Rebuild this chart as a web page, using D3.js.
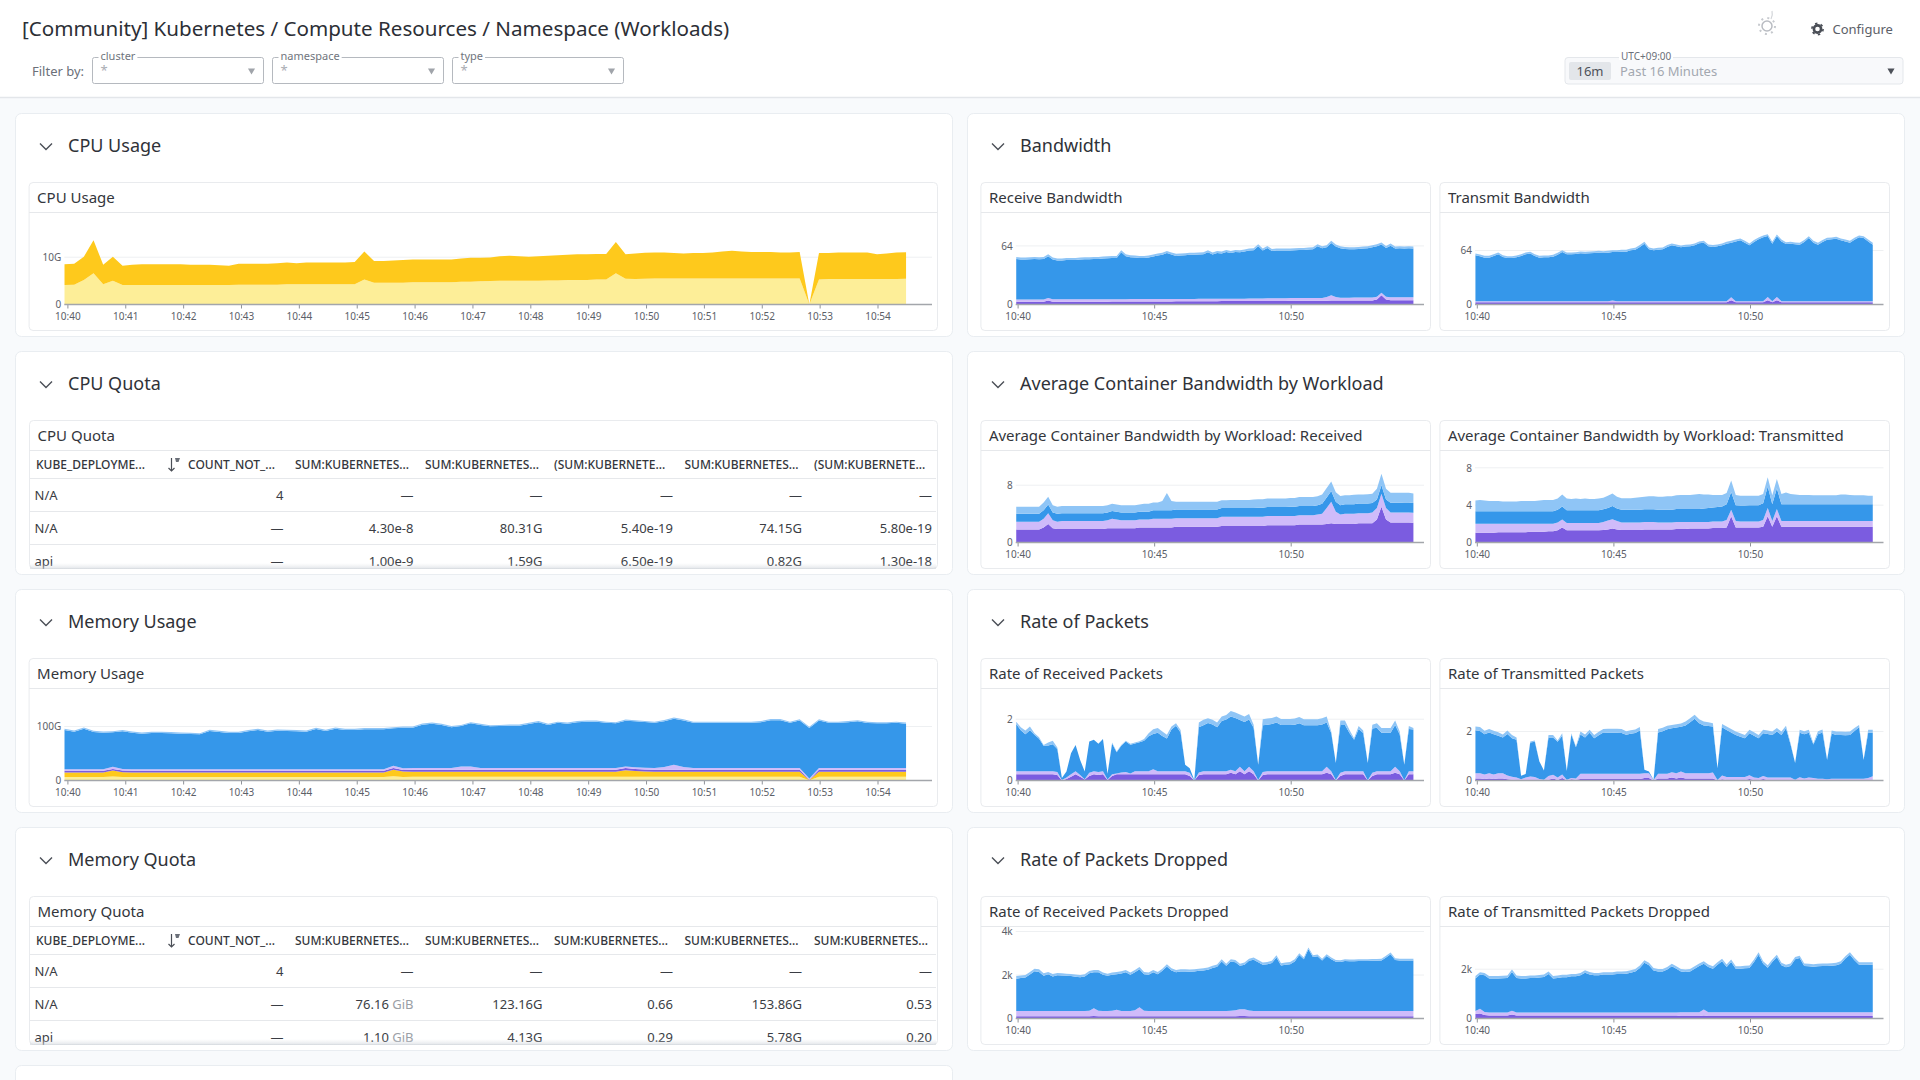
<!DOCTYPE html>
<html>
<head>
<meta charset="utf-8">
<style>
  html, body { margin: 0; padding: 0; background: #f8fafc; overflow: hidden; }
  text { font-family: "Noto Sans", sans-serif; }
</style>
<script src="https://cdn.jsdelivr.net/npm/d3@7"></script>
</head>
<body>
<div id="dashboard"></div>
<script>
// ---- tick labels ----
var wideTicks = ["10:40","10:41","10:42","10:43","10:44","10:45","10:46","10:47","10:48","10:49","10:50","10:51","10:52","10:53","10:54"];
var narrowTicks = ["10:40","10:45","10:50"];
var firstPoint = "10:39:57";
var stepSeconds = 10.03;

// ---- CPU usage (G) ----
var cpuLight = [4.1,4.2,5.2,6.6,4.3,5.0,4.1,4.1,4.1,4.1,
4.1,4.1,4.1,4.1,4.1,4.1,4.1,4.1,4.2,4.2,
4.2,4.2,4.2,4.3,4.3,4.3,4.3,4.3,4.3,4.3,
4.3,5.3,4.6,4.6,4.6,4.6,4.7,4.7,4.7,4.7,
4.7,4.8,4.8,4.9,4.95,5,5,5,5,5,
5.1,5.1,5.2,5.2,5.2,5.3,5.3,6.6,5.45,5.4,
5.45,5.5,5.5,5.5,5.5,5.5,5.5,5.5,5.5,5.5,
5.5,5.5,5.5,5.5,5.5,5.5,5.5,0,5.3,5.4,
5.4,5.4,5.4,5.4,5.4,5.4,5.4,5.45];
var cpuDark = [4.4,4.4,4.9,7.0,4.1,5.1,4.1,4.3,4.4,4.4,
4.4,4.4,4.4,4.3,4.3,4.3,4.2,4.1,4.4,4.4,
4.4,4.4,4.5,4.6,4.4,4.6,4.6,4.6,4.6,4.6,
4.7,5.9,4.6,4.6,4.7,4.8,4.8,4.8,4.8,4.8,
4.8,4.9,5.1,5.0,5.0,5.2,5.3,5.2,5.1,5.2,
5.2,5.3,5.3,5.4,5.4,5.4,5.4,6.6,5.15,5.4,
5.5,5.5,5.5,5.4,5.3,5.4,5.4,5.5,5.7,5.85,
5.7,5.6,5.6,5.6,5.5,5.5,5.6,0,5.6,5.5,
5.6,5.6,5.6,5.6,5.2,5.4,5.6,5.6];

// ---- memory usage (G) ----
var memLightYellow = [6.5,6.5,6.5,6.5,6.5,7.5,6.5,6.5,6.5,6.5,
6.5,6.5,6.5,6.5,6.5,6.5,6.5,6.5,6.5,6.5,
6.5,6.5,6.5,6.5,6.5,6.5,6.5,6.5,6.5,6.5,
6.5,6.5,6.5,6.5,8,6.5,7,7,7,7,
7,7,7,7,7,7,7,7,7,7,
7,7,7,7,7,7,7,7,7,7,
7,7,7,7,7,7,7,7,7,7,
7,7,7,7,7,7,7,0.3,7,7,
7,7,7,7,7,7,7,7];
var memYellow = [8.5,8.5,8.5,8.5,8.5,11,9,8.5,8.5,8.5,
8.5,8.5,8.5,8.5,8.5,8.5,8.5,8.5,8.5,8.5,
8.5,8.5,8.5,8.5,8.5,8.5,8.5,8.5,8.5,8.5,
8.5,8.5,8.5,8.5,12,10,9,9,9,9,
9,9,9,9,9,9,9,9,9,9,
9,9,9,9,9,9,9,9,12,10.5,
9.5,9,9,9,9,9,9,9,9,9,
9,9,9,9,9,9,9,0.5,9,9,
9,9,9,9,9,9,9,9];
var memPurple = [3,3,3,3,3,3,3,3,3,3,
3,3,3,3,3,3,3,3,3,3,
3,3,3,3,3,3,3,3,3,3,
3,3,3,3,3,3,4,4,4,4,
4,4,4,4,4,4,4,4,4,4,
4,4,4,4,4,4,4,4,4,4,
4,4,4,4,4,4,4,4,4,4,
4,4,4,4,4,4,4,0.7,4,4,
4,4,4,4,4,4,4,4];
var memLilac = [3,3,3,3,3,4,3,3,3,3,
3,3,3,3,3,3,3,3,3,3,
3,3,3,3,3,3,3,3,3,3,
3,3,3,3,4.5,3,3,3,3,3,
3,6,6,3,3,3,3,3,3,3,
3,3,3,3,3,3,3,3,3,3,
3,3,5,9,5,3,3,3,3,3,
3,3,3,3,3,3,3,2,3,3,
3,3,3,3,3,3,3,3];
var memPale = [2.2,2.2,2.2,2.2,2.2,2.2,2.2,2.2,2.2,2.2,
2.2,2.2,2.2,2.2,2.2,2.2,2.2,2.2,2.2,2.2,
2.2,2.2,2.2,2.2,2.2,2.2,2.2,2.2,2.2,2.2,
2.2,2.2,2.2,2.2,2.2,2.2,2.2,2.2,2.2,2.2,
2.2,2.2,2.2,2.2,2.2,2.2,2.2,2.2,2.2,2.2,
2.2,2.2,2.2,2.2,2.2,2.2,2.2,2.2,2.2,2.2,
2.2,2.2,2.2,2.2,2.2,2.2,2.2,2.2,2.2,2.2,
2.2,2.2,2.2,2.2,2.2,2.2,2.2,2.2,2.2,2.2,
2.2,2.2,2.2,2.2,2.2,2.2,2.2,2.2];
var memTotal = [95.7,92.6,98,92,90.8,91.4,93.3,90.8,89,90.2,
90.2,89.6,89,88.3,87.7,93.9,92,90.2,90.2,93.3,
95.7,92.6,94.5,93.9,93.3,92.6,97.5,93.9,98,95.7,
95.7,97,97,97,98.8,100,100,105.5,107.4,105,
101,103,108,105,102.5,103,103.7,103.7,107,110,
105,109,107.4,110,111,111,109,108,113,111.7,
110.4,109,112,116.6,113.5,109,109,109,109,109,
109,109,110,114,114,109,113.5,99.4,113.5,109,
109,110,111.7,108.6,108,108,109,107.4];

// ---- receive bandwidth ----
var rxBwPurple = [2.9,2.9,2.9,2.9,2.9,2.9,2.9,4.5,3,3,
3,3,3,3,3,3,3,3,3,3,
3.1,3.2,3.2,3.2,3.2,3.3,3.3,3.3,3.3,3.3,
3.4,3.4,3.4,3.4,3.4,3.5,3.5,3.5,3.5,3.5,
3.6,3.6,3.6,3.6,3.6,3.7,3.7,3.7,3.7,3.7,
3.8,3.8,3.8,3.8,3.8,3.9,3.9,3.9,3.9,3.9,
4,4,4,4,4,4.1,4.1,4.2,4.2,4.5,
4.3,4.3,4.3,4.3,4.4,4.4,4.4,4.4,4.5,5.5,
10,5.5,4.7,4.7,4.7,4.7,4.7,4.7];
var rxBwLilac = [2.6,2.6,2.6,2.6,2.6,2.6,2.6,2.5,2.6,2.6,
2.6,2.6,2.6,2.6,2.6,2.6,2.6,2.6,2.6,2.6,
2.6,2.6,2.6,2.6,2.6,2.6,2.6,2.6,2.6,2.6,
2.6,2.6,2.6,2.6,2.6,2.6,2.6,2.6,2.6,2.6,
2.6,2.6,2.6,2.6,2.6,2.6,2.6,2.6,2.6,2.6,
2.6,2.7,2.7,2.7,2.7,2.8,2.8,2.8,2.8,2.9,
3,3,3,3,3,3,3,3,4,5.5,
4,3.2,3.2,3.2,3.2,3.2,3.2,3.2,3.2,3,
2.7,3,3.3,3.3,3.3,3.3,3.3,3.3];
var rxBwPale = [2.2,2.2,2.2,2.2,2.2,2.2,2.2,2.2,2.2,2.2,
2.2,2.2,2.2,2.2,2.2,2.2,2.2,2.2,2.2,2.2,
2.2,2.2,2.2,2.2,2.2,2.2,2.2,2.2,2.2,2.2,
2.2,2.2,2.2,2.2,2.2,2.2,2.2,2.2,2.2,2.2,
2.2,2.2,2.2,2.2,2.2,2.2,2.2,2.2,2.2,2.2,
2.2,2.2,2.2,2.2,2.2,2.2,2.2,2.2,2.2,2.2,
2.2,2.2,2.2,2.2,2.2,2.2,2.2,2.2,2.2,2.2,
2.2,2.2,2.2,2.2,2.2,2.2,2.2,2.2,2.2,2.2,
2.2,2.2,2.2,2.2,2.2,2.2,2.2,2.2];
var rxBwTotal = [52,51.3,51.3,51.6,52,51.6,52,54.9,51.3,50.2,
50.2,50.9,50.9,50.9,51.3,51.6,51.6,52,52,52.4,
52.7,53.1,53.1,59.3,54.9,53.8,53.5,53.1,53.1,53.5,
54.5,55.6,56.4,58.5,56.7,55.3,55.6,56,56.4,56.4,
56.7,57.1,59.3,56.7,58.5,57.8,59.6,58.5,59.6,59.3,
60,61.1,61.5,65.8,61.1,64,60.7,61.1,61.1,61.1,
61.1,61.5,61.8,61.8,62.2,62.5,65.8,63.6,64.7,69.5,
65.5,63.6,62.9,62.5,62.5,62.9,63.3,63.6,64.7,65.8,
67.6,64,66.5,63.3,63.6,63.3,63.6,63.3];

// ---- transmit bandwidth ----
var txBwPurple = [2.8,2.8,2.8,2.8,2.8,2.8,2.8,2.8,2.8,2.8,
2.8,2.8,2.8,2.8,2.8,2.8,2.8,2.8,2.8,2.8,
2.8,2.8,2.8,2.8,2.8,2.8,2.8,2.8,2.8,2.8,
2.8,2.8,2.8,2.8,2.8,2.8,2.8,2.8,2.8,2.8,
2.8,2.8,2.8,2.8,2.8,2.8,2.8,2.8,2.8,2.8,
2.8,2.8,2.8,2.8,2.8,2.8,5,2.8,2.8,2.8,
2.8,2.8,2.8,2.8,5,2.8,5,2.8,2.8,2.8,
2.8,2.8,2.8,2.8,2.8,2.8,2.8,2.8,2.8,2.8,
2.8,2.8,2.8,2.8,2.8,2.8,2.8,2.8];
var txBwLilac = [1.2,1.2,1.2,1.2,1.2,1.2,1.2,1.2,1.2,1.2,
1.2,1.2,1.2,1.2,1.2,1.2,1.2,1.2,1.2,1.2,
1.2,1.2,1.2,1.2,1.2,1.2,1.2,1.2,1.2,1.2,
1.8,1.2,1.2,1.2,1.2,1.2,1.2,1.2,1.2,1.2,
1.2,1.2,1.2,1.2,1.2,1.2,1.2,1.2,1.2,1.2,
1.2,1.2,1.2,1.2,1.2,1.2,3.5,1.2,1.2,1.2,
1.2,1.2,1.2,1.2,4,1.2,4,1.2,1.2,1.2,
1.2,1.2,1.2,1.2,1.2,1.2,1.2,1.2,1.2,1.2,
1.2,1.2,1.2,1.2,1.2,1.2,1.2,1.2];
var txBwPale = [2.2,2.2,2.2,2.2,2.2,2.2,2.2,2.2,2.2,2.2,
2.2,2.2,2.2,2.2,2.2,2.2,2.2,2.2,2.2,2.2,
2.2,2.2,2.2,2.2,2.2,2.2,2.2,2.2,2.2,2.2,
2.2,2.2,2.2,2.2,2.2,2.2,2.2,2.2,2.2,2.2,
2.2,2.2,2.2,2.2,2.2,2.2,2.2,2.2,2.2,2.2,
2.2,2.2,2.2,2.2,2.2,2.2,2.2,2.2,2.2,2.2,
2.2,2.2,2.2,2.2,2.2,2.2,2.2,2.2,2.2,2.2,
2.2,2.2,2.2,2.2,2.2,2.2,2.2,2.2,2.2,2.2,
2.2,2.2,2.2,2.2,2.2,2.2,2.2,2.2];
var txBwTotal = [60.5,59.3,57.7,57.7,59.7,61.7,58.5,57.3,57.3,58.1,
59.7,61.7,62.5,59.7,57.7,58.1,58.1,58.9,61.3,64.4,
61.7,61.7,62,62.8,62.5,62.8,63.2,63.6,63.2,63.6,
64.4,64.4,64.8,64.8,66.4,67.2,70.4,74.3,67.6,66.4,
67.2,67.6,70.4,72.3,71.1,70,70.8,71.1,72.3,74.7,
75.5,71.1,70.4,71.1,72.3,74.3,75.5,77,78.3,75.5,
72.3,76.3,79.4,81.8,83.4,74.3,83,77,73.9,74.3,
73.5,73.1,76.3,81,75.5,73.1,76.3,79,79.4,80.2,
78.3,77,75.5,79,81.8,81,77,73.1];

// ---- average container bandwidth: received ----
var avgRxPurple = [1.8,1.8,1.8,1.8,1.8,1.8,2.1,2.6,2,1.9,
1.9,1.9,1.9,1.9,1.9,1.9,1.9,1.9,1.9,1.9,
2,2,2,2,2,2,2,2.1,2.1,2.1,
2.1,2.1,2.1,2.1,2.1,2.2,2.2,2.2,2.2,2.2,
2.2,2.2,2.2,2.2,2.2,2.3,2.3,2.3,2.3,2.3,
2.3,2.3,2.3,2.3,2.3,2.4,2.4,2.4,2.4,2.4,
2.4,2.4,2.5,2.5,2.5,2.5,2.5,2.5,2.6,2.7,
2.6,2.6,2.6,2.6,2.6,2.7,2.7,2.7,2.7,3.2,
5,3.2,2.8,2.8,2.8,2.8,2.8,2.75];
var avgRxLilac = [1.1,1.1,1.1,1.1,1.1,1.1,1.2,1.5,1.1,1,
1.1,1.1,1.1,1.1,1.1,1.1,1.1,1.1,1.1,1.1,
1.1,1.3,1.2,1.1,1.1,1.1,1.1,1.1,1.1,1.1,
1.2,1.2,1.2,1.2,1.2,1.2,1.2,1.2,1.2,1.2,
1.2,1.2,1.2,1.2,1.2,1.3,1.3,1.3,1.3,1.3,
1.3,1.3,1.3,1.3,1.3,1.3,1.3,1.3,1.3,1.3,
1.3,1.3,1.3,1.3,1.3,1.3,1.4,1.5,2.2,3,
1.7,1.3,1.4,1.4,1.4,1.4,1.4,1.4,1.5,1.6,
1.8,1.6,1.4,1.4,1.4,1.4,1.4,1.4];
var avgRxBlue = [1.1,1.1,1.1,1.1,1.1,1.1,1.2,1.2,1.1,1.1,
1.1,1.1,1.1,1.1,1.1,1.1,1.1,1.1,1.1,1.1,
1.1,1.1,1.1,1.1,1.1,1.1,1.1,1.1,1.1,1.1,
1.2,1.2,1.2,1.2,1.2,1.2,1.2,1.2,1.2,1.2,
1.2,1.2,1.2,1.2,1.2,1.2,1.2,1.2,1.2,1.2,
1.2,1.2,1.2,1.25,1.25,1.25,1.25,1.25,1.25,1.25,
1.3,1.3,1.3,1.3,1.3,1.3,1.3,1.4,1.5,1.5,
1.4,1.3,1.35,1.35,1.35,1.35,1.35,1.35,1.3,1.2,
1.2,1.2,1.35,1.35,1.35,1.4,1.4,1.35];
var avgRxPale = [1,1,1,1,1,1,1.1,1.1,1,1,
1,1,1,1,1,1,1,1,1,1,
1,1,1,1,1,1,1,1,1.1,1.1,
1.1,1.1,1.3,2.4,1.3,1.1,1.1,1.1,1.1,1.1,
1.1,1.1,1.1,1.1,1.1,1.1,1.1,1.15,1.15,1.15,
1.15,1.15,1.2,1.2,1.2,1.2,1.2,1.2,1.2,1.2,
1.2,1.2,1.25,1.25,1.25,1.25,1.25,1.3,1.3,1.3,
1.3,1.3,1.25,1.25,1.3,1.25,1.25,1.3,1.3,1.5,
1.6,1.5,1.4,1.4,1.4,1.35,1.35,1.35];

// ---- average container bandwidth: transmitted ----
var avgTxPurple = [1.05,1.05,1.05,1.05,1.05,1.1,1.1,1.1,1.1,1.1,
1.1,1.1,1.15,1.15,1.15,1.15,1.2,1.2,1.3,1.6,
1.3,1.3,1.3,1.3,1.3,1.3,1.3,1.3,1.35,1.4,
1.5,1.4,1.35,1.35,1.35,1.35,1.35,1.4,1.4,1.4,
1.4,1.4,1.4,1.4,1.45,1.45,1.45,1.5,1.5,1.5,
1.5,1.5,1.55,1.55,1.55,1.6,2.8,1.6,1.6,1.6,
1.6,1.6,1.6,1.7,2.8,1.7,2.8,1.7,1.7,1.7,
1.7,1.7,1.7,1.7,1.7,1.7,1.7,1.7,1.7,1.7,
1.7,1.7,1.7,1.7,1.7,1.7,1.7,1.7];
var avgTxLilac = [0.95,0.95,0.95,0.95,0.95,0.9,0.9,0.9,0.9,0.9,
0.9,0.9,0.85,0.85,0.85,0.85,0.8,0.8,0.85,0.85,
0.8,0.8,0.8,0.8,0.8,0.8,0.8,0.8,0.85,0.95,
1,0.9,0.8,0.8,0.8,0.8,0.8,0.8,0.8,0.8,
0.75,0.75,0.75,0.75,0.75,0.75,0.75,0.7,0.7,0.7,
0.7,0.7,0.7,0.7,0.7,0.8,0.7,0.7,0.65,0.65,
0.65,0.65,0.65,0.7,0.9,0.6,0.8,0.6,0.6,0.6,
0.6,0.6,0.6,0.6,0.6,0.6,0.6,0.6,0.6,0.6,
0.6,0.6,0.6,0.6,0.6,0.6,0.6,0.6];
var avgTxBlue = [1.35,1.35,1.35,1.35,1.35,1.35,1.35,1.35,1.35,1.35,
1.35,1.35,1.35,1.35,1.35,1.35,1.35,1.35,1.35,1.4,
1.35,1.35,1.35,1.35,1.35,1.35,1.35,1.35,1.35,1.35,
1.4,1.35,1.35,1.35,1.35,1.35,1.35,1.35,1.35,1.35,
1.35,1.35,1.35,1.35,1.4,1.4,1.4,1.4,1.4,1.4,
1.45,1.5,1.5,1.55,1.6,1.7,1.9,1.7,1.7,1.7,
1.75,1.75,1.75,1.8,2.3,1.8,2.2,1.8,1.8,1.8,
1.8,1.8,1.8,1.8,1.8,1.8,1.8,1.8,1.8,1.8,
1.8,1.8,1.8,1.8,1.8,1.8,1.8,1.8];
var avgTxPale = [1.15,1.2,1.15,1.1,1.1,1.1,1.05,1.05,1.05,1.05,
1.1,1.1,1.1,1.1,1.15,1.2,1.2,1.2,1.2,1.3,
1.25,1.2,1.25,1.2,1.25,1.2,1.2,1.25,1.25,1.3,
1.35,1.25,1.25,1.25,1.25,1.3,1.35,1.35,1.4,1.4,
1.4,1.4,1.45,1.45,1.45,1.5,1.5,1.5,1.55,1.6,
1.5,1.45,1.35,1.3,1.25,1.2,1.25,1.1,1.05,1.05,
1,1,1,1,1,0.95,1,1.1,1.25,1.1,
1.05,1,1,1,0.95,0.95,0.95,0.95,0.95,0.95,
1.05,1.05,1,0.95,0.95,0.95,0.9,0.9];

// ---- rate of received packets ----
var rxPktPurple = [0.2,0.2,0.2,0.2,0.2,0.2,0.2,0.2,0.2,0.18,
0,0.05,0.12,0.2,0.12,0.03,0.15,0.2,0.18,0.2,
0.02,0.15,0.2,0.2,0.2,0.2,0.2,0.2,0.2,0.2,
0.2,0.2,0.2,0.2,0.2,0.2,0.2,0.2,0.15,0,
0.18,0.2,0.2,0.2,0.2,0.2,0.2,0.25,0.2,0.3,
0.2,0.3,0.2,0,0.18,0.2,0.2,0.2,0.2,0.2,
0.2,0.2,0.2,0.2,0.2,0.2,0.2,0.2,0.25,0.2,
0,0.15,0.2,0.2,0.2,0.2,0.2,0,0.15,0.2,
0.2,0.2,0.2,0.25,0.2,0,0.2,0.2];
var rxPktLilac = [0.1,0.1,0.1,0.1,0.1,0.1,0.1,0.1,0.1,0.1,
0.02,0.05,0.08,0.1,0.06,0.01,0.1,0.1,0.1,0.1,
0.01,0.05,0.03,0.06,0.08,0.03,0.1,0.1,0.1,0.1,
0.17,0.1,0.1,0.1,0.1,0.1,0.1,0.1,0.1,0,
0.08,0.1,0.1,0.1,0.1,0.1,0.1,0.1,0.1,0.15,
0.1,0.15,0.1,0.02,0.1,0.1,0.1,0.1,0.1,0.1,
0.1,0.1,0.1,0.1,0.1,0.1,0.1,0.1,0.2,0.1,
0.02,0.1,0.1,0.1,0.1,0.1,0.1,0.01,0.1,0.1,
0.1,0.1,0.1,0.2,0.1,0.01,0.1,0.1];
var rxPktPale = [0.08,0.1,0.12,0.12,0.05,0.05,0.03,0.1,0.12,0.05,
0,0,0,0,0,0,0,0,0,0,
0,0.03,0.03,0.03,0.03,0.03,0.03,0.03,0.05,0.1,
0.15,0.15,0.15,0.12,0.1,0.08,0.08,0,0,0,
0.15,0.18,0.15,0.15,0.15,0.15,0.15,0.18,0.18,0.18,
0.18,0.18,0.1,0,0.2,0.2,0.2,0.2,0.2,0.2,
0.2,0.2,0.2,0.2,0.2,0.2,0.2,0.2,0.2,0.05,
0,0.15,0.15,0.1,0.05,0.1,0.08,0,0.12,0.15,
0.15,0.15,0.15,0.15,0.1,0,0.1,0.05];
var rxPktTotal = [1.92,1.74,1.63,1.76,1.54,1.41,1.16,1.24,1.3,1.08,
0.08,0.29,0.89,1.16,0.67,0.29,1.27,1.33,1.2,1.35,
0.22,1.24,0.95,1.16,1.3,1.2,1.24,1.28,1.35,1.54,
1.67,1.71,1.6,1.49,1.76,1.87,1.65,0.51,0.4,0.02,
1.89,1.98,2.03,1.98,1.89,2.09,2.14,2.27,2.22,2.15,
2.09,2.17,1.82,0.51,2,2.02,2.04,2.09,2.01,2.01,
2.01,2.02,2.07,2,2,2,2,2.03,2.09,1.6,
0.57,1.96,1.96,1.65,1.38,1.78,1.63,0.57,1.82,1.87,
1.71,1.71,1.71,1.96,1.6,0.51,1.78,1.71];

// ---- rate of transmitted packets ----
var txPktPurple = [0.08,0.08,0.06,0.08,0.06,0.08,0.08,0.05,0.03,0.02,
0,0.02,0.01,0.02,0.01,0,0.03,0.08,0.02,0.1,
0,0.05,0.03,0.06,0.06,0.06,0.06,0.06,0.06,0.06,
0.06,0.06,0.06,0.06,0.06,0.06,0.06,0.1,0.1,0,
0.08,0.08,0.08,0.12,0.08,0.12,0.08,0.08,0.08,0.08,
0.08,0.08,0.08,0,0.05,0.02,0.02,0.02,0.02,0.02,
0.06,0.02,0.02,0.06,0.02,0.02,0.02,0.02,0.02,0.02,
0,0.03,0.02,0.02,0.02,0.02,0.02,0,0.02,0.02,
0.02,0.02,0.02,0.02,0.02,0.02,0.02,0.02];
var txPktLilac = [0.22,0.22,0.18,0.22,0.18,0.22,0.22,0.15,0.12,0.1,
0.05,0.1,0.15,0.12,0.05,0.03,0.15,0.15,0.1,0.15,
0.03,0.05,0.05,0.22,0.22,0.22,0.22,0.22,0.22,0.22,
0.22,0.22,0.22,0.22,0.22,0.22,0.22,0.2,0.2,0.02,
0.2,0.2,0.2,0.22,0.22,0.25,0.22,0.22,0.22,0.22,
0.22,0.22,0.25,0.02,0.15,0.12,0.12,0.12,0.12,0.12,
0.15,0.1,0.08,0.12,0.1,0.1,0.1,0.1,0.1,0.1,
0.03,0.1,0.06,0.1,0.08,0.05,0.05,0.05,0.05,0.05,
0.05,0.05,0.05,0.05,0.05,0.05,0.08,0.15];
var txPktPale = [0.15,0.16,0.14,0.14,0.14,0.14,0.12,0.14,0.14,0.1,
0,0,0.04,0.05,0,0,0.1,0.1,0.05,0.1,
0,0.05,0.03,0.12,0.12,0.12,0.14,0.14,0.14,0.16,
0.16,0.16,0.16,0.14,0.14,0.14,0.14,0,0,0,
0.14,0.14,0.14,0.14,0.14,0.14,0.16,0.16,0.16,0.16,
0.16,0.16,0.14,0,0.14,0.14,0.14,0.14,0.14,0.14,
0.14,0.14,0.14,0.14,0.14,0.14,0.14,0.14,0.1,0.05,
0,0.12,0.12,0.12,0.05,0.12,0.12,0,0.12,0.14,
0.14,0.14,0.14,0.12,0.1,0,0.12,0.12];
var txPktTotal = [2.2,2.18,2.03,2.1,2.03,1.97,1.88,2.04,1.86,1.76,
0.19,0.27,1.59,1.63,0.78,0.41,1.86,1.86,1.63,1.93,
0.39,1.93,1.39,2,1.88,2.07,1.86,1.99,2.1,2.11,
2.11,2.11,2.1,2.01,2.05,2.08,2.18,0.44,0.37,0.03,
2.1,2.15,2.23,2.27,2.3,2.33,2.41,2.54,2.68,2.5,
2.41,2.38,2.34,0.5,2.31,2.2,2.1,2,1.93,1.86,
2.07,1.97,1.86,2.07,2.04,2,2.14,2,2.23,1.52,
0.71,2.07,2.01,2.07,1.52,2.01,2.08,0.84,2.04,2,
2,1.99,2,2.14,2.27,0.84,2.07,2.07];

// ---- rate of received packets dropped (k) ----
var rxDropPurple = [0.1,0.1,0.1,0.1,0.1,0.1,0.1,0.1,0.1,0.1,
0.1,0.1,0.1,0.1,0.1,0.1,0.1,0.12,0.1,0.1,
0.1,0.1,0.1,0.1,0.1,0.1,0.1,0.1,0.1,0.1,
0.1,0.1,0.1,0.1,0.1,0.1,0.1,0.1,0.1,0.1,
0.1,0.1,0.1,0.1,0.1,0.1,0.1,0.1,0.1,0.12,
0.12,0.1,0.1,0.1,0.1,0.1,0.1,0.1,0.1,0.1,
0.1,0.1,0.1,0.1,0.1,0.1,0.1,0.1,0.1,0.1,
0.1,0.1,0.1,0.1,0.1,0.1,0.1,0.1,0.1,0.1,
0.1,0.1,0.1,0.1,0.1,0.1,0.1,0.1];
var rxDropLilac = [0.24,0.24,0.24,0.24,0.24,0.24,0.24,0.24,0.24,0.24,
0.24,0.24,0.24,0.24,0.24,0.24,0.26,0.35,0.26,0.24,
0.24,0.26,0.3,0.25,0.24,0.24,0.28,0.42,0.26,0.24,
0.24,0.24,0.24,0.24,0.24,0.24,0.24,0.24,0.24,0.24,
0.24,0.24,0.24,0.24,0.24,0.24,0.24,0.26,0.28,0.3,
0.3,0.27,0.25,0.25,0.25,0.25,0.25,0.25,0.25,0.25,
0.25,0.25,0.25,0.25,0.25,0.25,0.25,0.25,0.25,0.25,
0.25,0.25,0.25,0.25,0.25,0.25,0.25,0.25,0.25,0.25,
0.25,0.25,0.25,0.25,0.25,0.25,0.25,0.25];
var rxDropPale = [0.12,0.12,0.12,0.12,0.12,0.12,0.12,0.1,0.12,0.1,
0.1,0.1,0.1,0.1,0.1,0.1,0.1,0.1,0.1,0.1,
0.1,0.1,0.1,0.1,0.1,0.1,0.1,0.1,0.1,0.1,
0.1,0.1,0.1,0.1,0.1,0.1,0.1,0.1,0.1,0.1,
0.1,0.1,0.1,0.1,0.1,0.1,0.1,0.1,0.1,0.1,
0.1,0.1,0.1,0.1,0.1,0.1,0.1,0.1,0.1,0.1,
0.1,0.1,0.08,0.08,0.08,0.08,0.08,0.08,0.08,0.08,
0.08,0.08,0.08,0.08,0.08,0.08,0.08,0.08,0.08,0.08,
0.08,0.08,0.08,0.08,0.08,0.08,0.08,0.08];
var rxDropTotal = [1.95,1.98,2,2.14,2.29,2.26,2.08,2.14,2.05,2.09,
2.08,2.06,2.05,2.02,2,2.03,2.18,2.23,2.23,2.11,
2.06,2.11,2.14,2.17,2.23,2.11,2.23,2.37,2.14,2.11,
2.23,2.14,2.29,2.49,2.31,2.23,2.26,2.26,2.25,2.26,
2.29,2.31,2.34,2.42,2.48,2.72,2.52,2.72,2.69,2.52,
2.57,2.75,2.8,2.69,2.57,2.6,2.65,2.91,2.54,2.57,
2.6,2.72,3,2.8,3.26,2.91,2.94,2.75,2.95,2.8,
2.69,2.68,2.72,2.71,2.71,2.72,2.72,2.72,2.74,2.74,
2.75,2.88,3.03,2.77,2.75,2.75,2.75,2.75];

// ---- rate of transmitted packets dropped (k) ----
var txDropPurple = [0.18,0.2,0.14,0.12,0.12,0.12,0.12,0.12,0.16,0.12,
0.12,0.12,0.12,0.12,0.12,0.12,0.12,0.12,0.12,0.12,
0.12,0.12,0.12,0.12,0.12,0.12,0.12,0.12,0.12,0.12,
0.12,0.12,0.12,0.12,0.12,0.12,0.12,0.12,0.12,0.12,
0.12,0.12,0.12,0.12,0.12,0.1,0.1,0.1,0.1,0.1,
0.12,0.1,0.1,0.1,0.1,0.1,0.1,0.1,0.1,0.1,
0.1,0.1,0.1,0.1,0.1,0.1,0.1,0.1,0.1,0.1,
0.1,0.1,0.1,0.1,0.1,0.1,0.1,0.1,0.1,0.1,
0.1,0.1,0.1,0.1,0.1,0.1,0.1,0.1];
var txDropLilac = [0.12,0.2,0.12,0.12,0.12,0.12,0.12,0.12,0.15,0.12,
0.12,0.12,0.12,0.12,0.12,0.12,0.12,0.12,0.12,0.12,
0.12,0.12,0.12,0.12,0.12,0.12,0.12,0.12,0.12,0.12,
0.12,0.12,0.12,0.12,0.12,0.12,0.12,0.12,0.12,0.12,
0.12,0.12,0.12,0.12,0.12,0.15,0.15,0.15,0.15,0.15,
0.25,0.15,0.15,0.15,0.15,0.15,0.15,0.15,0.15,0.15,
0.15,0.15,0.15,0.15,0.15,0.15,0.15,0.15,0.15,0.15,
0.15,0.15,0.15,0.15,0.15,0.15,0.15,0.15,0.15,0.15,
0.15,0.15,0.15,0.15,0.15,0.15,0.15,0.15];
var txDropPale = [0.1,0.1,0.1,0.1,0.1,0.1,0.1,0.1,0.1,0.1,
0.1,0.1,0.1,0.1,0.1,0.1,0.1,0.1,0.1,0.1,
0.1,0.1,0.1,0.1,0.1,0.1,0.1,0.1,0.1,0.1,
0.1,0.1,0.1,0.1,0.1,0.1,0.1,0.1,0.1,0.1,
0.1,0.1,0.1,0.1,0.1,0.1,0.1,0.1,0.1,0.1,
0.1,0.1,0.1,0.1,0.1,0.1,0.1,0.1,0.1,0.1,
0.1,0.1,0.1,0.1,0.1,0.1,0.1,0.1,0.1,0.1,
0.1,0.1,0.1,0.1,0.1,0.1,0.1,0.1,0.1,0.1,
0.1,0.1,0.1,0.1,0.1,0.1,0.1,0.1];
var txDropTotal = [1.72,1.88,1.85,1.72,1.72,1.72,1.73,1.74,1.99,1.74,
1.72,1.72,1.74,1.74,1.76,1.78,1.91,1.72,1.74,1.77,
1.77,1.81,1.81,1.85,1.96,1.89,1.85,1.85,1.88,1.88,
1.88,1.91,1.91,1.92,1.96,2.01,2.15,2.36,2.26,2.05,
2.01,2.01,2.09,2.22,2.12,2.01,1.99,2.01,2.12,2.23,
2.32,2.19,2.12,2.28,2.42,2.19,2.39,2.12,2.12,2.14,
2.15,2.39,2.69,2.32,2.16,2.39,2.59,2.26,2.18,2.23,
2.5,2.55,2.23,2.22,2.2,2.22,2.23,2.23,2.24,2.26,
2.32,2.53,2.69,2.46,2.28,2.28,2.28,2.28];

// ---- tables ----
var cpuQuotaHead = ["KUBE_DEPLOYME...","COUNT_NOT_...","SUM:KUBERNETES...","SUM:KUBERNETES...","(SUM:KUBERNETE...","SUM:KUBERNETES...","(SUM:KUBERNETE..."];
var cpuQuotaRows = [
  ["N/A","4","—","—","—","—","—"],
  ["N/A","—","4.30e-8","80.31G","5.40e-19","74.15G","5.80e-19"],
  ["api","—","1.00e-9","1.59G","6.50e-19","0.82G","1.30e-18"]
];
var memQuotaHead = ["KUBE_DEPLOYME...","COUNT_NOT_...","SUM:KUBERNETES...","SUM:KUBERNETES...","SUM:KUBERNETES...","SUM:KUBERNETES...","SUM:KUBERNETES..."];
var memQuotaRows = [
  ["N/A","4","—","—","—","—","—"],
  ["N/A","—","76.16 GiB","123.16G","0.66","153.86G","0.53"],
  ["api","—","1.10 GiB","4.13G","0.29","5.78G","0.20"]
];

var BLUE = "#3597ea", PALE = "#8fc5f6", LILAC = "#cfbbfa", PURPLE = "#7b5ce0",
    GOLD = "#fec91c", CREAM = "#fdee98";

// blue layer is whatever sits between the smaller layers and the read-off total
function restOf(total, others) {
  return total.map(function(t, i) {
    return Math.max(0, t - d3.sum(others, function(o) { return o[i]; }));
  });
}

var svg = d3.select("#dashboard")
  .append("svg")
    .attr("width", 1920)
    .attr("height", 1080)
    .style("display", "block");

var defs = svg.append("defs");
var fade = defs.append("linearGradient").attr("id", "fade").attr("x1", 0).attr("x2", 0).attr("y1", 0).attr("y2", 1);
fade.append("stop").attr("offset", "0%").attr("stop-color", "#dfe3e8").attr("stop-opacity", 0);
fade.append("stop").attr("offset", "100%").attr("stop-color", "#cfd4da").attr("stop-opacity", 0.65);

// header strip
svg.append("rect").attr("width", 1920).attr("height", 97).attr("fill", "#fff");
svg.append("line").attr("x1", 0).attr("x2", 1920).attr("y1", 97.5).attr("y2", 97.5).attr("stroke", "#e3e6ea").attr("stroke-width", 1.5);

function label(g, x, y, str, size, color, anchor, weight) {
  return g.append("text")
    .attr("x", x)
    .attr("y", y)
    .attr("dy", "0.35em")
    .attr("font-size", size)
    .attr("fill", color)
    .attr("text-anchor", anchor || "start")
    .attr("font-weight", weight || 400)
    .text(str);
}

function caret(g, x, y, color) {
  g.append("path")
    .attr("d", d3.symbol().type(d3.symbolTriangle).size(22))
    .attr("transform", "translate(" + x + "," + y + ") rotate(180)")
    .attr("fill", color);
}

label(svg, 22, 29, "[Community] Kubernetes / Compute Resources / Namespace (Workloads)", 20.6, "#2c2f36");
label(svg, 32, 71, "Filter by:", 13, "#6b7079");

// filter boxes
[["cluster", 92.5], ["namespace", 272.5], ["type", 452.5]].forEach(function(f) {
  svg.append("rect").attr("x", f[1]).attr("y", 57.5).attr("width", 171).attr("height", 26).attr("rx", 2)
    .attr("fill", "#fff").attr("stroke", "#b5b9bf");
  var t = label(svg, f[1] + 8, 56, f[0], 11, "#70757d");
  var w = t.node().getComputedTextLength();
  svg.insert("rect", "text:last-of-type").attr("x", f[1] + 6).attr("y", 54).attr("width", w + 4).attr("height", 6).attr("fill", "#fff");
  label(svg, f[1] + 8, 70, "*", 13, "#a9adb3");
  caret(svg, f[1] + 159, 70.5, "#a0a4aa");
});

// time selector
svg.append("rect").attr("x", 1565).attr("y", 57.5).attr("width", 338).attr("height", 26.5).attr("rx", 3)
  .attr("fill", "#f8f9fb").attr("stroke", "#e4e7eb");
svg.append("rect").attr("x", 1569).attr("y", 62).attr("width", 42).attr("height", 18).attr("rx", 2).attr("fill", "#e3e6ea");
label(svg, 1590, 71, "16m", 13, "#4d5159", "middle");
label(svg, 1620, 71, "Past 16 Minutes", 13, "#a3a8b0");
svg.append("rect").attr("x", 1619).attr("y", 54).attr("width", 54).attr("height", 6).attr("fill", "#fff");
label(svg, 1621, 56, "UTC+09:00", 10, "#6b7079");
caret(svg, 1891, 70.5, "#4d5159");

// bug icon and configure link
var bug = svg.append("g").attr("transform", "translate(1767,26)");
bug.append("circle").attr("r", 5).attr("fill", "none").attr("stroke", "#b9bcc2").attr("stroke-width", 1.5);
bug.append("circle").attr("r", 8).attr("fill", "none").attr("stroke", "#c6c9ce").attr("stroke-width", 2).attr("stroke-dasharray", "2 4.3");
bug.append("path").attr("d", "M4,-7 Q6,-11 5,-15").attr("fill", "none").attr("stroke", "#d2d5d9").attr("stroke-width", 1.2);
var gear = svg.append("g").attr("transform", "translate(1817.5,29)");
gear.append("circle").attr("r", 3.6).attr("fill", "none").attr("stroke", "#4a4e56").attr("stroke-width", 2.6);
gear.append("circle").attr("r", 5.6).attr("fill", "none").attr("stroke", "#4a4e56").attr("stroke-width", 1.6).attr("stroke-dasharray", "2.4 3.4");
label(svg, 1832.5, 29, "Configure", 13, "#5c6068");

// section cards
var cardsY = [113, 351, 589, 827];
var leftCard = { x: 15, w: 937 }, rightCard = { x: 967, w: 937 };

function card(x, y, w, title) {
  var g = svg.append("g");
  g.append("rect").attr("x", x + 0.5).attr("y", y + 0.5).attr("width", w).attr("height", 223).attr("rx", 6)
    .attr("fill", "#fff").attr("stroke", "#e9edf1");
  g.append("path")
    .attr("d", "M" + (x + 25) + "," + (y + 30.5) + " l6,6 l6,-6")
    .attr("fill", "none").attr("stroke", "#4b4f57").attr("stroke-width", 1.4);
  label(g, x + 53, y + 33, title, 18, "#2f3238");
}

function panel(x, y, w, title) {
  var g = svg.append("g");
  g.append("rect").attr("x", x + 0.5).attr("y", y + 69.5).attr("width", w).attr("height", 148).attr("rx", 4)
    .attr("fill", "#fff").attr("stroke", "#e9ebee");
  g.append("line").attr("x1", x + 0.5).attr("x2", x + w + 0.5).attr("y1", y + 99.5).attr("y2", y + 99.5).attr("stroke", "#e6e8eb");
  label(g, x + 8.5, y + 85, title, 15, "#33363c");
}

// stacked area panel
function areaPanel(o) {
  panel(o.px, o.y, o.pw, o.title);
  var base = o.y + 191.5;
  var parse = d3.timeParse("%H:%M");
  var x = d3.scaleTime()
    .domain([parse(o.ticks[0]), parse(o.ticks[o.ticks.length - 1])])
    .range([o.tick0, o.tickN]);
  var y = d3.scaleLinear().domain([0, o.yRef]).range([base, base - o.yRefPx]);
  var t0 = d3.timeParse("%H:%M:%S")(firstPoint).getTime();
  var n = o.layers[0].values.length;
  var rows = d3.range(n);

  var stacked = d3.stack()
    .keys(d3.range(o.layers.length))
    .value(function(i, k) { return o.layers[k].values[i]; })(rows);

  var g = svg.append("g");

  // grid lines first
  g.selectAll(".grid")
    .data(o.yTicks.filter(function(d) { return d > 0; }))
    .enter().append("line")
      .attr("x1", o.left).attr("x2", o.right)
      .attr("y1", function(d) { return y(d); }).attr("y2", function(d) { return y(d); })
      .attr("stroke", "#eef0f2");

  var area = d3.area()
    .x(function(d) { return x(new Date(t0 + d.data * stepSeconds * 1000)); })
    .y0(function(d) { return y(d[0]); })
    .y1(function(d) { return y(d[1]); });

  g.selectAll(".layer")
    .data(stacked)
    .enter().append("path")
      .attr("d", area)
      .attr("fill", function(d, k) { return o.layers[k].color; });

  var yAxis = g.append("g")
    .attr("transform", "translate(" + (o.left - 3) + ",0)")
    .call(d3.axisLeft(y).tickValues(o.yTicks).tickSize(0).tickPadding(0)
      .tickFormat(function(d) { return d === 0 ? "0" : o.yFormat(d); }));
  yAxis.select(".domain").remove();
  yAxis.selectAll("text").attr("font-size", 10).attr("font-family", "Noto Sans").attr("fill", "#5c6068");

  var xAxis = g.append("g")
    .attr("transform", "translate(0," + base + ")")
    .call(d3.axisBottom(x).tickValues(o.ticks.map(parse)).tickSize(4).tickPadding(4)
      .tickFormat(d3.timeFormat("%H:%M")));
  xAxis.select(".domain").remove();
  xAxis.selectAll("line").attr("stroke", "#8f9399");
  xAxis.selectAll("text").attr("font-size", 10).attr("font-family", "Noto Sans").attr("fill", "#5c6068");

  g.append("line").attr("x1", o.left).attr("x2", o.right).attr("y1", base).attr("y2", base)
    .attr("stroke", "#a3a6ab").attr("stroke-width", 1.5);
}

// table panel, columns are right aligned except the first
var colLeft = [36, 188, 295, 425, 554, 684.5, 814];
var colRight = [0, 283.5, 413.5, 542.5, 673, 802, 932];

function tablePanel(y, title, head, rows, clipId) {
  panel(29, y, 908, title);
  var g = svg.append("g");
  g.append("clipPath").attr("id", clipId)
    .append("rect").attr("x", 30).attr("y", y + 100).attr("width", 906).attr("height", 118);
  var body = g.append("g").attr("clip-path", "url(#" + clipId + ")");

  head.forEach(function(h, c) {
    label(body, colLeft[c], y + 114, h, 12, "#33363c", "start", 500);
  });
  // sort arrow beside the count column
  body.append("path")
    .attr("d", "M171.5," + (y + 107) + " v13 m-3,-3 l3,3 l3,-3")
    .attr("fill", "none").attr("stroke", "#4a4e56").attr("stroke-width", 1.2);
  body.append("path")
    .attr("d", "M175," + (y + 107) + " h5 l-1.5,4 h-2.5 z")
    .attr("fill", "#6b7079");
  body.append("line").attr("x1", 29).attr("x2", 937).attr("y1", y + 127.5).attr("y2", y + 127.5).attr("stroke", "#e6e8eb");

  rows.forEach(function(r, i) {
    var ry = y + 144 + i * 33;
    if (i < 2) {
      body.append("line").attr("x1", 29).attr("x2", 937).attr("y1", ry + 16.5).attr("y2", ry + 16.5).attr("stroke", "#e6e8eb");
    }
    r.forEach(function(v, c) {
      if (c === 0) {
        label(body, 34.5, ry, v, 13, "#3a3d44");
        return;
      }
      var parts = v.split(" ");
      var t = label(body, colRight[c], ry + 0.5, parts[0], 13, "#3a3d44", "end");
      if (parts[1]) {
        t.append("tspan").attr("fill", "#9a9ea5").text(" " + parts[1]);
      }
    });
  });
  g.append("rect").attr("x", 30).attr("y", y + 212).attr("width", 906).attr("height", 6).attr("fill", "url(#fade)");
}

// layout of the two narrow panels in each right hand card
var narrowA = { px: 980.4, pw: 449.6, tick0: 1017.6, tickN: 1290.7, left: 1015.7, right: 1424, ticks: narrowTicks };
var narrowB = { px: 1439.4, pw: 449.6, tick0: 1476.8, tickN: 1750, left: 1475, right: 1883.5, ticks: narrowTicks };
var wide = { px: 28.6, pw: 908.4, tick0: 67.4, tickN: 877.5, left: 64.3, right: 932, ticks: wideTicks };

function plain(d) { return String(d); }
function giga(d) { return d + "G"; }
function kilo(d) { return d + "k"; }

// left column
card(leftCard.x, cardsY[0], leftCard.w, "CPU Usage");
areaPanel(Object.assign({}, wide, {
  y: cardsY[0], title: "CPU Usage", yRef: 10, yRefPx: 47.3, yTicks: [0, 10], yFormat: giga,
  layers: [{ values: cpuLight, color: CREAM }, { values: cpuDark, color: GOLD }]
}));

card(leftCard.x, cardsY[1], leftCard.w, "CPU Quota");
tablePanel(cardsY[1], "CPU Quota", cpuQuotaHead, cpuQuotaRows, "clip-cpu");

card(leftCard.x, cardsY[2], leftCard.w, "Memory Usage");
areaPanel(Object.assign({}, wide, {
  y: cardsY[2], title: "Memory Usage", yRef: 100, yRefPx: 54, yTicks: [0, 100], yFormat: giga,
  layers: [
    { values: memLightYellow, color: CREAM },
    { values: memYellow, color: GOLD },
    { values: memPurple, color: PURPLE },
    { values: memLilac, color: LILAC },
    { values: restOf(memTotal, [memLightYellow, memYellow, memPurple, memLilac, memPale]), color: BLUE },
    { values: memPale, color: PALE }
  ]
}));

card(leftCard.x, cardsY[3], leftCard.w, "Memory Quota");
tablePanel(cardsY[3], "Memory Quota", memQuotaHead, memQuotaRows, "clip-mem");

// fifth card only peeks in at the bottom of the page
svg.append("rect").attr("x", leftCard.x + 0.5).attr("y", 1065.5).attr("width", leftCard.w).attr("height", 40).attr("rx", 6)
  .attr("fill", "#fff").attr("stroke", "#e9edf1");

// right column
function fourLayers(purple, lilac, pale, total) {
  return [
    { values: purple, color: PURPLE },
    { values: lilac, color: LILAC },
    { values: restOf(total, [purple, lilac, pale]), color: BLUE },
    { values: pale, color: PALE }
  ];
}

card(rightCard.x, cardsY[0], rightCard.w, "Bandwidth");
areaPanel(Object.assign({}, narrowA, {
  y: cardsY[0], title: "Receive Bandwidth", yRef: 64, yRefPx: 58.6, yTicks: [0, 64], yFormat: plain,
  layers: fourLayers(rxBwPurple, rxBwLilac, rxBwPale, rxBwTotal)
}));
areaPanel(Object.assign({}, narrowB, {
  y: cardsY[0], title: "Transmit Bandwidth", yRef: 64, yRefPx: 54, yTicks: [0, 64], yFormat: plain,
  layers: fourLayers(txBwPurple, txBwLilac, txBwPale, txBwTotal)
}));

card(rightCard.x, cardsY[1], rightCard.w, "Average Container Bandwidth by Workload");
areaPanel(Object.assign({}, narrowA, {
  y: cardsY[1], title: "Average Container Bandwidth by Workload: Received", yRef: 8, yRefPx: 57.3, yTicks: [0, 8], yFormat: plain,
  layers: [
    { values: avgRxPurple, color: PURPLE },
    { values: avgRxLilac, color: LILAC },
    { values: avgRxBlue, color: BLUE },
    { values: avgRxPale, color: PALE }
  ]
}));
areaPanel(Object.assign({}, narrowB, {
  y: cardsY[1], title: "Average Container Bandwidth by Workload: Transmitted", yRef: 8, yRefPx: 74.7, yTicks: [0, 4, 8], yFormat: plain,
  layers: [
    { values: avgTxPurple, color: PURPLE },
    { values: avgTxLilac, color: LILAC },
    { values: avgTxBlue, color: BLUE },
    { values: avgTxPale, color: PALE }
  ]
}));

card(rightCard.x, cardsY[2], rightCard.w, "Rate of Packets");
areaPanel(Object.assign({}, narrowA, {
  y: cardsY[2], title: "Rate of Received Packets", yRef: 2, yRefPx: 61.3, yTicks: [0, 2], yFormat: plain,
  layers: fourLayers(rxPktPurple, rxPktLilac, rxPktPale, rxPktTotal)
}));
areaPanel(Object.assign({}, narrowB, {
  y: cardsY[2], title: "Rate of Transmitted Packets", yRef: 2, yRefPx: 49, yTicks: [0, 2], yFormat: plain,
  layers: fourLayers(txPktPurple, txPktLilac, txPktPale, txPktTotal)
}));

card(rightCard.x, cardsY[3], rightCard.w, "Rate of Packets Dropped");
areaPanel(Object.assign({}, narrowA, {
  y: cardsY[3], title: "Rate of Received Packets Dropped", yRef: 2, yRefPx: 43.5, yTicks: [0, 2, 4], yFormat: kilo,
  layers: fourLayers(rxDropPurple, rxDropLilac, rxDropPale, rxDropTotal)
}));
areaPanel(Object.assign({}, narrowB, {
  y: cardsY[3], title: "Rate of Transmitted Packets Dropped", yRef: 2, yRefPx: 49.3, yTicks: [0, 2], yFormat: kilo,
  layers: fourLayers(txDropPurple, txDropLilac, txDropPale, txDropTotal)
}));
</script>
</body>
</html>
